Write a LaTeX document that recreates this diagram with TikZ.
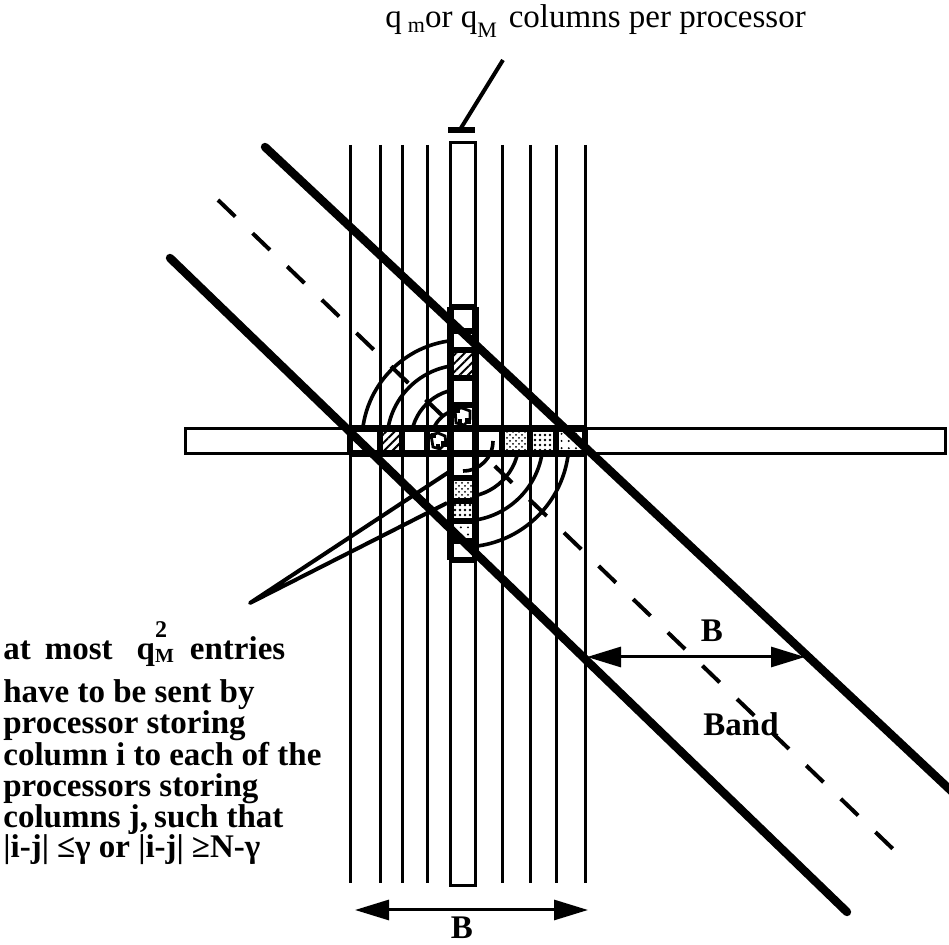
\documentclass[tikz,border=0pt]{standalone}
\usepackage{fontspec}
\setmainfont{Liberation Serif}
\usetikzlibrary{arrows.meta,patterns,patterns.meta}
\begin{document}
\begin{tikzpicture}[x=0.5pt,y=-0.5pt,
  vline/.style={line width=1.5pt},
  thickline/.style={line width=4.2pt,line cap=round},
  dashline/.style={line width=2pt,dash pattern=on 12pt off 12pt},
  arcline/.style={line width=1.8pt},
  wedge/.style={line width=2pt,line join=round},
  sepline/.style={line width=3pt},
  bandborder/.style={line width=3.5pt},
  dimarrow/.style={line width=1.5pt,{Triangle[length=17pt,width=10pt]}-{Triangle[length=17pt,width=10pt]}},
  hatch/.style={pattern={Lines[angle=45,distance=3pt,line width=1pt]}},
  densedots/.style={pattern=crosshatch dots},
  middots/.style={pattern={Dots[distance=2.5pt,radius=0.7pt]}},
  sparsedots/.style={pattern={Dots[distance=3.6pt,radius=0.55pt]}},
  lbl/.style={inner sep=0pt,font=\fontsize{16.5}{16}\selectfont},
  bl/.style={inner sep=0pt,font=\fontsize{16.5}{16}\selectfont\bfseries}
]
\useasboundingbox (0,0) rectangle (949,945);

% vertical column lines
\foreach \x [count=\i] in {350,380,402,427,502,530,556,585}{
  \coordinate (vt\i) at (\x,145);
  \coordinate (vb\i) at (\x,883);
  \draw[vline] (vt\i) -- (vb\i);
}

% dashed centre line of the band
\coordinate (da) at (218,200);
\coordinate (db) at (893,849);
\draw[dashline] (da) -- (db);

% concentric arcs
\foreach \r in {32,52,76,101}{
  \draw[arcline] ({463-\r},441) arc[start angle=180,end angle=270,radius=\r];
}
\foreach \r in {56,80,106}{
  \draw[arcline] ({463+\r},441) arc[start angle=0,end angle=90,radius=\r];
}

% leader wedge from the text
\coordinate (wt) at (250,603);
\coordinate (wa) at (455,468);
\coordinate (wb) at (447,503);
\draw[wedge] (wa) -- (wt) -- (wb);

% the processor column (vertical) and row (horizontal)
\coordinate (rtl) at (450,143);
\coordinate (rbr) at (475,886);
\coordinate (htl) at (185,429);
\coordinate (hbr) at (945,454);
\fill[white] (rtl) rectangle (rbr);
\fill[white] (htl) rectangle (hbr);
\draw[vline] (rtl) rectangle (rbr);
\draw[vline] (htl) rectangle (hbr);

% band segments
\draw[bandborder] (350,429) -- (585,429) (350,454) -- (585,454);
\draw[bandborder] (450,307) -- (450,560) (475,307) -- (475,560);
\foreach \x in {350,380,402,427,450,475,502,530,556,585}
  \draw[sepline] (\x,429) -- (\x,454);
\foreach \y in {307,331,350,378,405,478,501,521,541,560}
  \draw[sepline] (450,\y) -- (475,\y);

% patterned cells, row
\fill[hatch] (382,431) rectangle (400,452);
\fill[densedots] (504,431) rectangle (528,452);
\fill[middots] (532,431) rectangle (554,452);
\fill[sparsedots] (558,431) rectangle (577,452);
% patterned cells, column
\fill[hatch] (452,352) rectangle (473,376);
\fill[densedots] (452,480) rectangle (473,499);
\fill[middots] (452,503) rectangle (473,519);
\fill[sparsedots] (452,523) rectangle (473,539);
% blob cells
\draw[line width=1.4pt] (431,435) -- (438,433) -- (445,436) -- (446,443) -- (440,449) -- (433,447) -- cycle;
\fill (431,433) rectangle (436,438);
\fill (441,441) rectangle (447,447);
\fill (436,444) rectangle (440,449);
\draw[line width=1.4pt] (455,409) -- (462,408) -- (470,411) -- (470,419) -- (464,425) -- (456,423) -- cycle;
\fill (455,408) rectangle (460,413);
\fill (465,418) rectangle (471,424);
\fill (458,419) rectangle (462,424);

% small arc crossing the cells
\draw[arcline] (493,441) arc[start angle=0,end angle=90,radius=30];

% band edges
\coordinate (ua) at (265,147);
\coordinate (ub) at (962,801);
\coordinate (la) at (170,258);
\coordinate (lb) at (847,912);
\draw[thickline] (ua) -- (ub);
\draw[thickline] (la) -- (lb);

% top label and its leader
\coordinate (ta) at (503,60);
\coordinate (tb) at (461,128);
\coordinate (k1) at (448,130);
\coordinate (k2) at (475,130);
\draw[line width=2pt] (ta) -- (tb);
\draw[line width=3pt] (k1) -- (k2);
\node[lbl,anchor=base west] (title) at (385,28)
  {q\kern3pt\raisebox{-2.5pt}{\fontsize{11}{11}\selectfont m}or q\raisebox{-5pt}{\fontsize{11}{11}\selectfont M}\kern6pt columns per processor};

% dimension arrows
\coordinate (ba) at (355,910);
\coordinate (bb) at (588,910);
\draw[dimarrow] (ba) -- (bb);
\node[bl] (bB) at (462,928) {B};
\coordinate (ra) at (587,657);
\coordinate (rz) at (805,657);
\draw[dimarrow] (ra) -- (rz);
\node[bl] (rB) at (712,631) {B};
\node[bl] (band) at (741,724) {Band};

% explanatory text
\node[bl,anchor=base west] (t1) at (3,660)
  {at\kern7pt most\kern12pt q\rlap{\raisebox{11pt}{\fontsize{12}{12}\selectfont 2}}\raisebox{-1.5pt}{\fontsize{10}{10}\selectfont M}\kern8pt entries};
\node[bl,anchor=base west] (t2) at (3,703) {have to be sent by};
\node[bl,anchor=base west] (t3) at (3,734) {processor storing};
\node[bl,anchor=base west] (t4) at (3,766) {column i to each of the};
\node[bl,anchor=base west] (t5) at (3,797) {processors storing};
\node[bl,anchor=base west] (t6) at (3,828) {columns j,\kern3pt such that};
\node[bl,anchor=base west] (t7) at (3,858) {|i-j|\kern4pt ≤γ or |i-j|\kern4pt ≥N-γ};
\end{tikzpicture}
\end{document}
